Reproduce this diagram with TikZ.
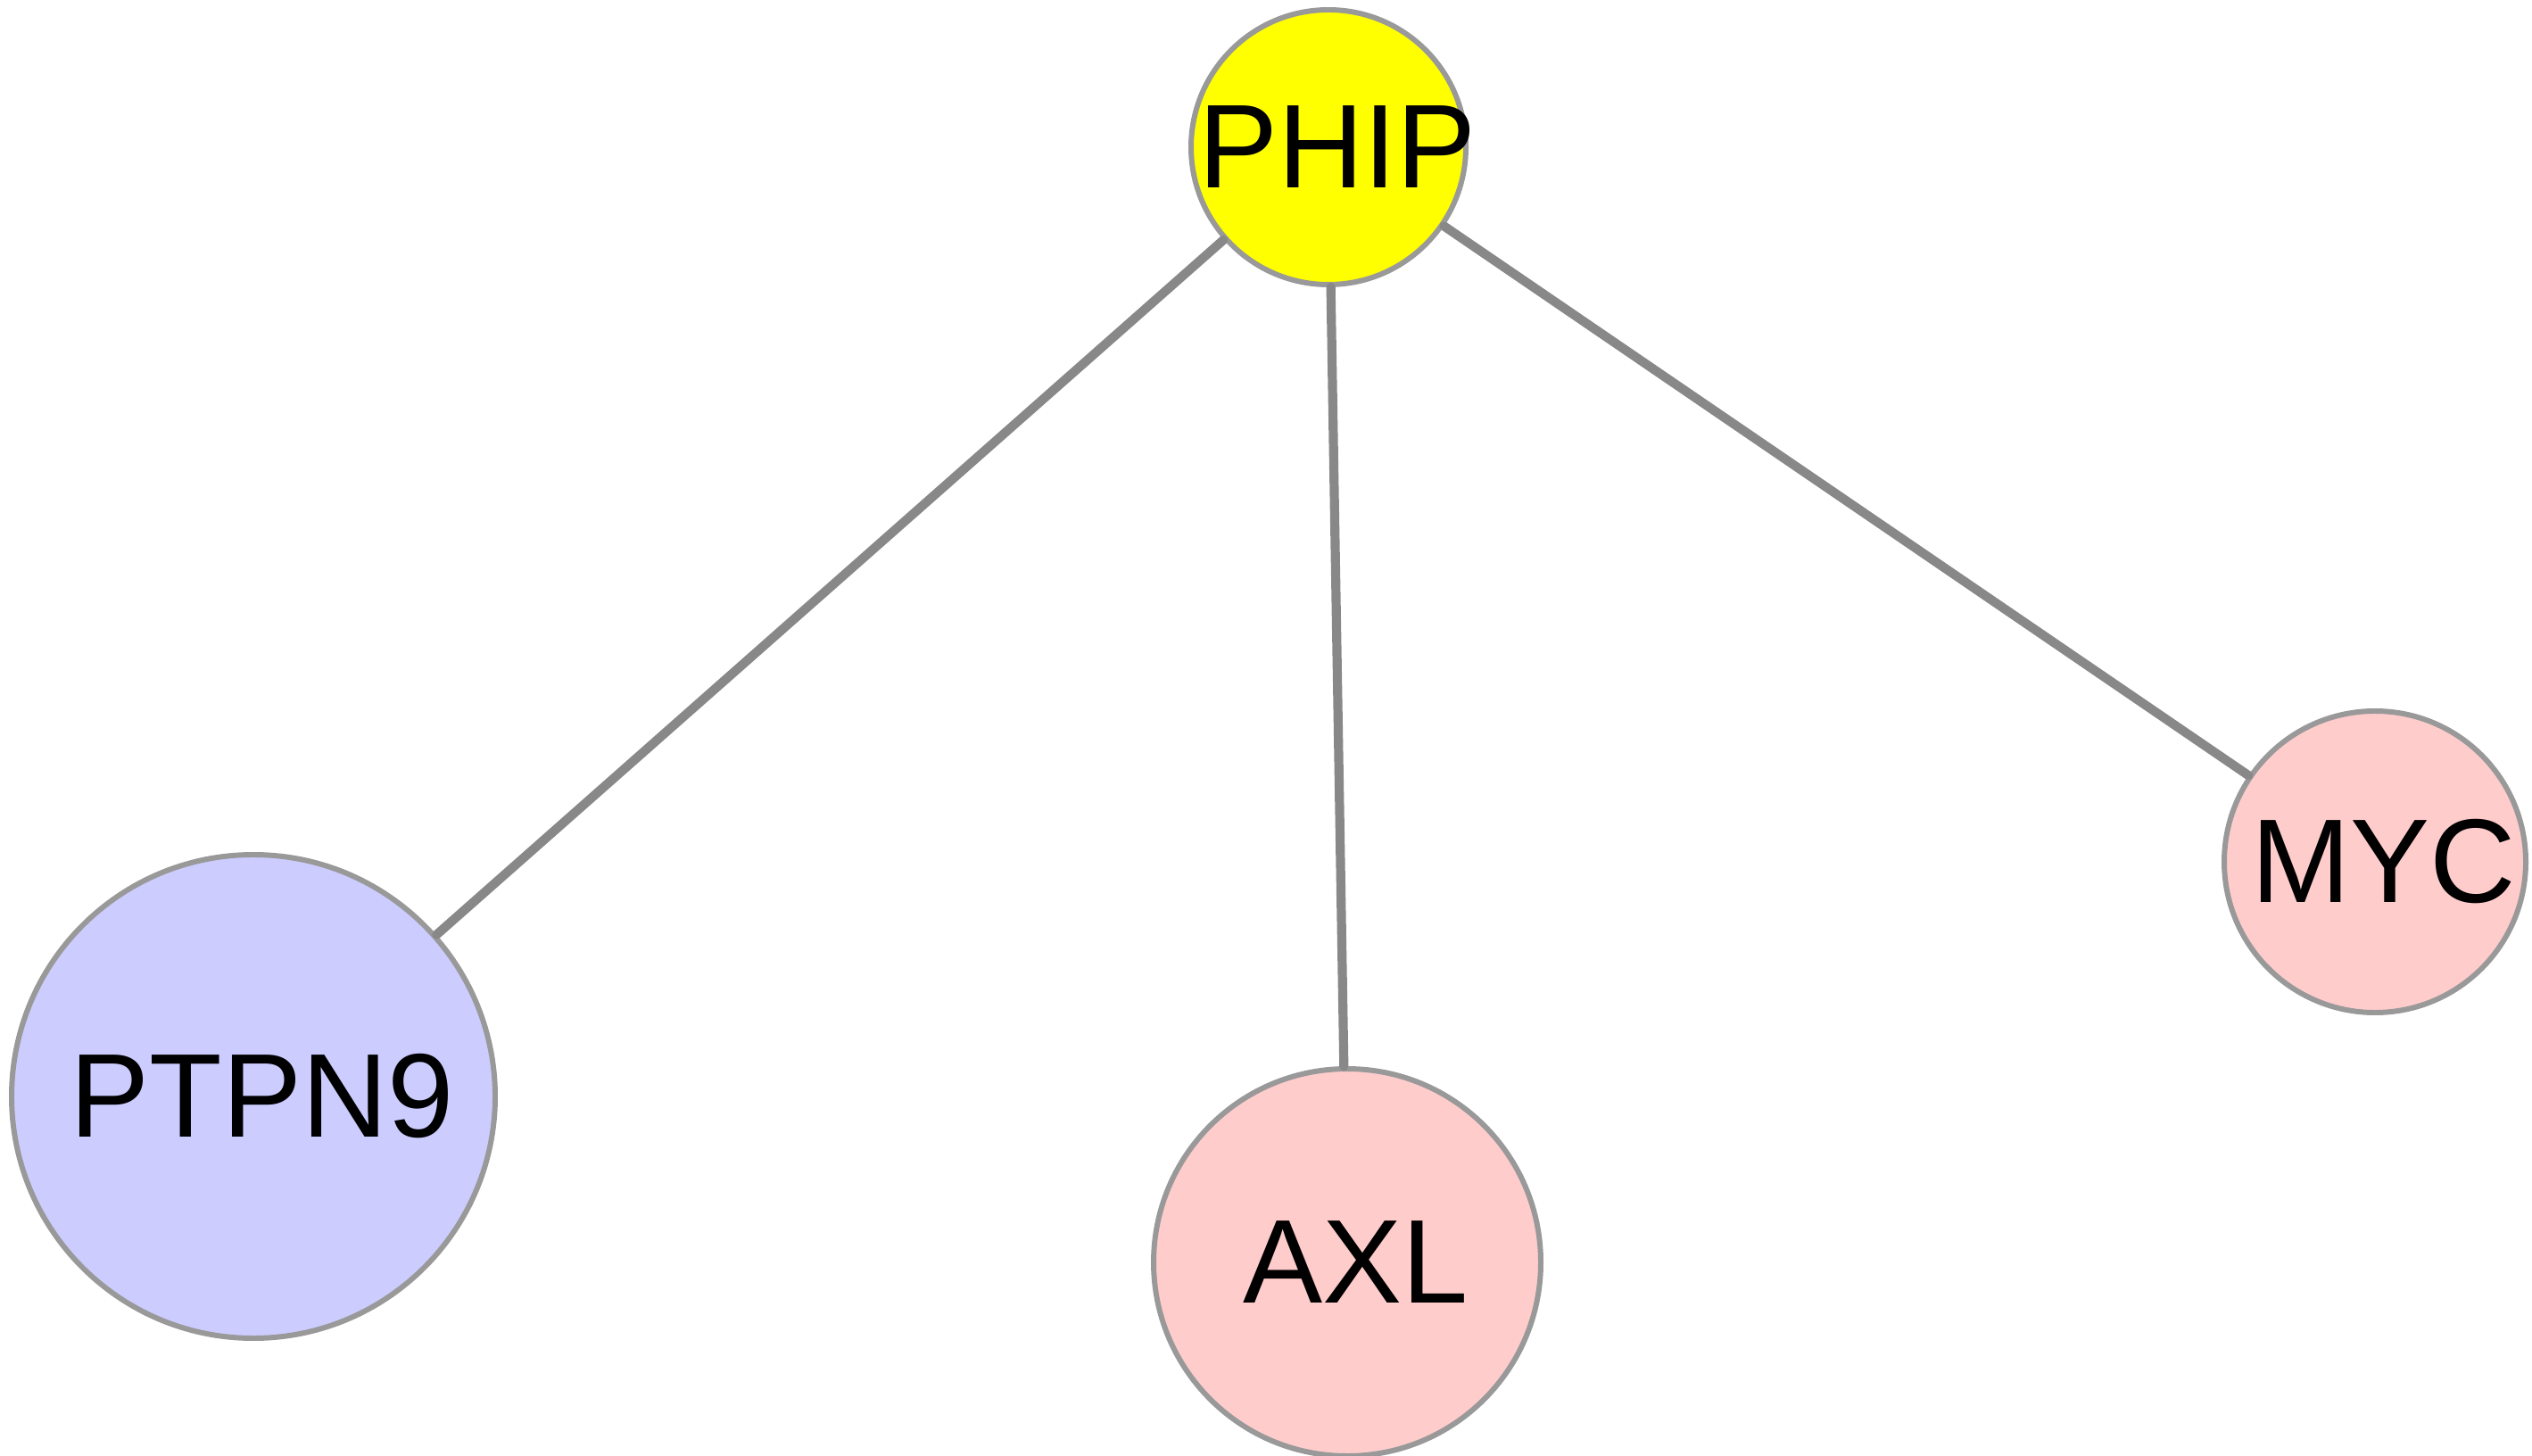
\documentclass[tikz,border=0pt]{standalone}
\usepackage{fontspec}
\setmainfont{Liberation Sans}
\usepackage{tikz}

\definecolor{nodeborder}{HTML}{999999}
\definecolor{edgegray}{HTML}{888888}
\definecolor{seedyellow}{HTML}{FFFF00}
\definecolor{hitpink}{HTML}{FFCCCC}
\definecolor{hitlavender}{HTML}{CCCCFF}

\begin{document}
\begin{tikzpicture}[
  gene/.style={circle, draw=nodeborder, line width=1.7pt, inner sep=0pt},
  every label/.style={font=\fontsize{38}{40}\selectfont, inner sep=0pt, xshift=1mm},
  link/.style={draw=edgegray, line width=2.9pt, line cap=round}]
\useasboundingbox (0,0) rectangle (28.38,-16.32);
\node[gene, fill=seedyellow, minimum size=3.08cm, label=center:PHIP] (phip) at (14.89,-1.65) {};
\node[gene, fill=hitlavender, minimum size=5.42cm, label=center:PTPN9] (ptpn9) at (2.84,-12.29) {};
\node[gene, fill=hitpink, minimum size=4.34cm, label=center:AXL] (axl) at (15.10,-14.15) {};
\node[gene, fill=hitpink, minimum size=3.38cm, label=center:MYC] (myc) at (26.62,-9.66) {};
\draw[link] (phip) -- (ptpn9);
\draw[link] (phip) -- (axl);
\draw[link] (phip) -- (myc);
\end{tikzpicture}
\end{document}
